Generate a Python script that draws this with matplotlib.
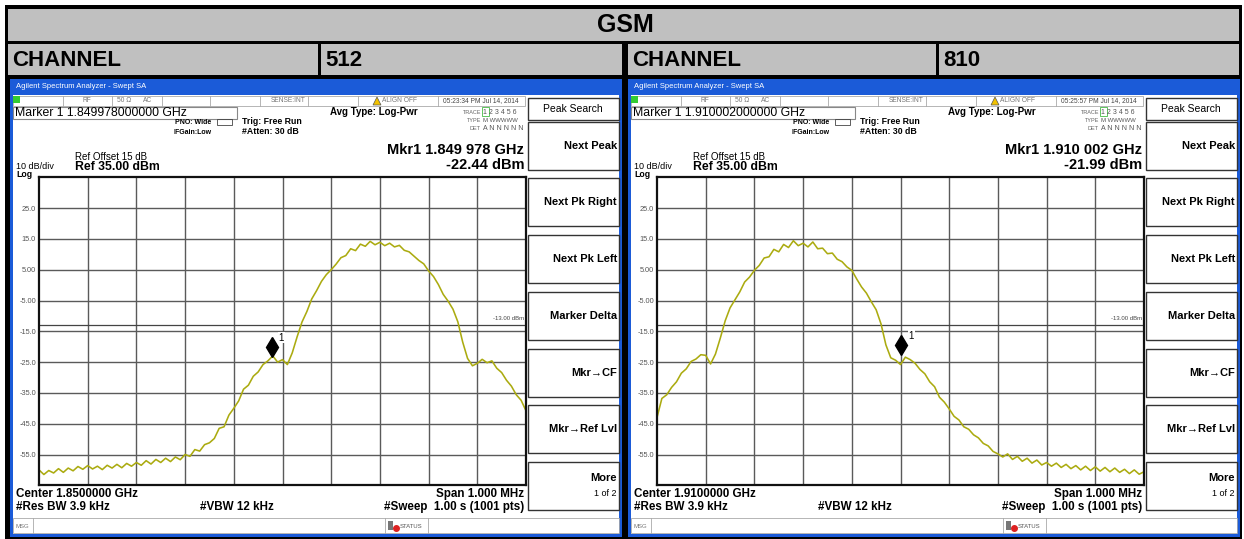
import numpy as np
import matplotlib
matplotlib.use('Agg')
import matplotlib.pyplot as plt
from matplotlib.patches import Rectangle, Polygon
from matplotlib.transforms import offset_copy

plt.rcParams['font.family'] = ['Liberation Sans', 'DejaVu Sans']

# sweep points (kHz offset from center), 10 kHz steps across 1 MHz span
freq_khz = np.linspace(-500, 500, 101)

# channel 512 trace (dBm)
ch512_level = [
    -60.0, -61.5, -60.2, -61.0, -59.6, -60.8, -59.4, -60.3, -58.9, -59.8,
    -58.6, -59.7, -58.8, -59.9, -58.5, -59.4, -58.2, -59.3, -57.9, -58.8,
    -57.6, -58.5, -57.0, -58.1, -56.6, -57.6, -56.2, -57.3, -55.8, -56.7,
    -55.0, -55.6, -53.4, -53.9, -51.8, -51.2, -49.8, -46.5, -46.0, -42.2,
    -40.0, -37.6, -33.8, -32.5, -29.6, -28.2, -25.8, -24.6, -23.0, -25.0,
    -24.2, -25.8, -22.0, -16.8, -12.0, -8.6, -4.5, -1.8, 1.2, 3.4,
    5.0, 6.8, 8.9, 9.6, 11.8, 11.2, 13.3, 12.6, 14.2, 13.1,
    13.9, 12.8, 13.6, 12.4, 12.9, 11.3, 10.8, 9.4, 8.0, 6.9,
    4.6, 2.8, 0.2, -3.0, -5.2, -7.8, -11.9, -18.5, -23.8, -26.2,
    -25.4, -24.1, -25.2, -24.6, -27.0, -28.4, -30.9, -32.8, -35.6, -37.4,
    -40.8]

# channel 810 trace (dBm)
ch810_level = [
    -43.0, -36.8, -35.6, -33.2, -31.4, -28.6, -27.2, -24.8, -24.0, -22.6,
    -22.8, -25.6, -22.4, -17.2, -11.6, -7.4, -4.8, -2.2, 1.0, 2.6,
    4.8, 6.4, 8.8, 9.2, 11.6, 10.8, 13.2, 12.2, 14.4, 12.8,
    13.6, 12.4, 14.0, 11.8, 12.0, 10.2, 10.4, 8.4, 7.6, 5.9,
    4.8, 2.0, -0.6, -2.6, -5.4, -8.0, -12.6, -19.4, -23.6, -24.4,
    -25.8, -23.4, -24.2, -25.4, -27.4, -28.8, -31.4, -33.0, -36.4, -38.0,
    -40.2, -42.6, -43.8, -46.0, -46.8, -48.6, -49.6, -51.4, -52.2, -54.0,
    -54.8, -55.8, -54.8, -56.6, -55.6, -57.2, -56.2, -57.8, -56.8, -58.4,
    -57.6, -58.8, -57.8, -59.2, -58.2, -59.6, -58.6, -60.0, -58.8, -60.2,
    -59.0, -60.4, -59.2, -60.6, -59.4, -60.8, -59.8, -61.2, -60.0, -61.4,
    -60.6]

channels = ['512', '810']
mkr_khz = [-22, 2]
mkr_dbm = [-22.44, -21.99]
mkr_box_text = ['Marker 1 1.849978000000 GHz', 'Marker 1 1.910002000000 GHz']
mkr_read_text = ['Mkr1 1.849 978 GHz', 'Mkr1 1.910 002 GHz']
mkr_level_text = ['-22.44 dBm', '-21.99 dBm']
center_text = ['Center 1.8500000 GHz', 'Center 1.9100000 GHz']
time_text = ['05:23:34 PM Jul 14, 2014', '05:25:57 PM Jul 14, 2014']

y_ticks = [25, 15, 5, -5, -15, -25, -35, -45, -55]
y_tick_labels = ['25.0', '15.0', '5.00', '-5.00', '-15.0', '-25.0', '-35.0', '-45.0', '-55.0']
limit_dbm = -13
softkeys = ['Next Peak', 'Next Pk Right', 'Next Pk Left', 'Marker Delta',
            'Mkr\u2192CF', 'Mkr\u2192Ref Lvl', 'More']

W, H = 1244, 539
fig = plt.figure(figsize=(W / 100, H / 100), dpi=100)
bg = fig.add_axes([0, 0, 1, 1])
bg.set_xlim(0, W)
bg.set_ylim(H, 0)
bg.axis('off')


def box(x0, y0, x1, y1, fc='none', ec='none', lw=1.0, z=1):
    bg.add_patch(Rectangle((x0, y0), x1 - x0, y1 - y0, facecolor=fc,
                           edgecolor=ec, lw=lw, zorder=z))


def txt(x, y, s, size, ha='left', weight='normal', color='black', z=5):
    bg.text(x, y, s, fontsize=size, ha=ha, va='center', fontweight=weight,
            color=color, zorder=z)


# table
box(5, 5, 1242, 539, fc='black', z=0)
box(8, 9, 1239, 41, fc='#c0c0c0')
txt(625, 25, 'GSM', 18, ha='center', weight='bold')
for x0, x1, s in [(8, 318, 'CHANNEL'), (321, 622, channels[0]),
                  (628, 936, 'CHANNEL'), (939, 1239, channels[1])]:
    box(x0, 44, x1, 75, fc='#c0c0c0')
    txt(x0 + 4, 60, s, 16, weight='bold')


def screen(i, levels):
    d = 618 * i
    # window
    box(10 + d, 79, 622 + d, 537, fc='#1b5bd8', z=1)
    box(13 + d, 95, 619 + d, 534, fc='white', z=1)
    txt(16 + d, 87, 'Agilent Spectrum Analyzer - Swept SA', 5.5, color='white')

    # status row
    box(13 + d, 96, 525 + d, 106, ec='#aaaaaa', lw=0.6, z=2)
    for sx in [63, 112, 162, 210, 260, 308, 358, 438]:
        bg.plot([sx + d, sx + d], [96, 106], color='#aaaaaa', lw=0.6, zorder=2)
    box(13 + d, 96, 20 + d, 103, fc='#33cc33', z=3)
    txt(87 + d, 101, 'RF', 4.8, ha='center', color='#777777')
    txt(117 + d, 101, '50 \u03a9', 4.8, color='#777777')
    txt(143 + d, 101, 'AC', 4.8, color='#777777')
    txt(288 + d, 101, 'SENSE:INT', 4.8, ha='center', color='#777777')
    bg.add_patch(Polygon([[373 + d, 105], [377 + d, 97], [381 + d, 105]],
                         closed=True, fc='#f2c200', ec='#555555', lw=0.5, zorder=3))
    txt(382 + d, 101, 'ALIGN OFF', 4.8, color='#777777')
    txt(481 + d, 101, time_text[i], 4.8, ha='center', color='#444444')

    # marker box and settings
    box(13 + d, 107, 237 + d, 119, ec='#888888', lw=0.8, z=2)
    txt(15 + d, 113.5, mkr_box_text[i], 8.8)
    txt(175 + d, 122, 'PNO: Wide', 5, weight='bold')
    box(217 + d, 119, 232 + d, 125, ec='#444444', lw=0.6, z=2)
    txt(173 + d, 133, 'IFGain:Low', 5, weight='bold')
    txt(242 + d, 122, 'Trig: Free Run', 6.3, weight='bold')
    txt(242 + d, 132, '#Atten: 30 dB', 6.3, weight='bold')
    txt(330 + d, 112, 'Avg Type: Log-Pwr', 7, weight='bold')
    txt(481 + d, 112, 'TRACE', 4, ha='right', color='#666666')
    txt(481 + d, 120, 'TYPE', 4, ha='right', color='#666666')
    txt(481 + d, 128, 'DET', 4, ha='right', color='#666666')
    box(482 + d, 107, 489 + d, 116, ec='#44bb44', lw=0.6, z=2)
    txt(483 + d, 112, '1 2 3 4 5 6', 5, color='#555555')
    txt(483 + d, 120, 'M WWWWW', 4.3, color='#555555')
    txt(483 + d, 128, 'A N N N N N', 5, color='#555555')
    txt(524 + d, 150, mkr_read_text[i], 10.5, ha='right', weight='bold')
    txt(524 + d, 165, mkr_level_text[i], 10.5, ha='right', weight='bold')
    txt(75 + d, 156.5, 'Ref Offset 15 dB', 7)
    txt(75 + d, 167, 'Ref 35.00 dBm', 8.8, weight='bold')
    txt(16 + d, 166.5, '10 dB/div', 6.5)
    txt(16 + d, 174.5, 'Log', 6.3, weight='bold')

    # bottom annotations
    txt(16 + d, 494, center_text[i], 8.4, weight='bold')
    txt(524 + d, 494, 'Span 1.000 MHz', 8.4, ha='right', weight='bold')
    txt(16 + d, 507, '#Res BW 3.9 kHz', 8.4, weight='bold')
    txt(200 + d, 507, '#VBW 12 kHz', 8.4, weight='bold')
    txt(524 + d, 507, '#Sweep  1.00 s (1001 pts)', 8.4, ha='right', weight='bold')

    # status bar
    box(13 + d, 518, 619 + d, 533, ec='#aaaaaa', lw=0.6, z=2)
    for sx in [33, 385, 428]:
        bg.plot([sx + d, sx + d], [518, 533], color='#aaaaaa', lw=0.6, zorder=2)
    txt(15 + d, 526, 'MSG', 4.3, color='#777777')
    box(388 + d, 521, 393 + d, 530, fc='#777777', z=3)
    bg.plot(396 + d, 528, 'o', ms=4, color='#dd2222', zorder=4)
    txt(400 + d, 526, 'STATUS', 4.3, color='#555555')

    # softkeys
    box(528 + d, 98, 619 + d, 120, ec='#333333', lw=1.0, z=2)
    txt(573 + d, 109, 'Peak Search', 7.5, ha='center')
    for k, top in enumerate([122, 178, 235, 292, 349, 405, 462]):
        box(528 + d, top, 619 + d, top + 48, ec='#333333', lw=1.0, z=2)
        if softkeys[k] == 'More':
            txt(617 + d, top + 16, 'More', 8, ha='right', weight='bold')
            txt(617 + d, top + 31, '1 of 2', 6.5, ha='right')
        else:
            txt(617 + d, top + 24, softkeys[k], 8, ha='right', weight='bold')

    # graticule + trace
    gx = 39 + d
    ax = fig.add_axes([gx / W, 1 - (177.3 + 308) / H, 487 / W, 308 / H])
    ax.set_facecolor('white')
    ax.set_xlim(-500, 500)
    ax.set_ylim(-65, 35)
    ax.set_xticks(np.arange(-400, 401, 100))
    ax.set_xticklabels([])
    ax.set_yticks(y_ticks)
    ax.set_yticklabels(y_tick_labels, fontsize=5.3, color='#555555')
    ax.tick_params(length=0, pad=2.2)
    ax.grid(True, color='#5a5a5a', lw=1.0)
    for sp in ax.spines.values():
        sp.set_color('#111111')
        sp.set_linewidth(1.6)
    ax.axhline(limit_dbm, color='#444444', lw=0.9)
    ax.text(497, limit_dbm + 1.2, '-13.00 dBm', fontsize=4.3, ha='right',
            va='bottom', color='#444444')
    ax.plot(freq_khz, levels, color='#abab10', lw=1.15)
    tr = offset_copy(ax.transData, fig=fig, x=0, y=5.5, units='points')
    ax.plot(mkr_khz[i], mkr_dbm[i], marker='d', ms=10, color='black',
            transform=tr, zorder=5)
    tr1 = offset_copy(ax.transData, fig=fig, x=5, y=12, units='points')
    ax.text(mkr_khz[i], mkr_dbm[i], '1', fontsize=7, transform=tr1,
            va='center', ha='left', zorder=6,
            bbox=dict(fc='white', ec='none', pad=0.6))


screen(0, ch512_level)
screen(1, ch810_level)

fig.savefig('out.png', dpi=100)
